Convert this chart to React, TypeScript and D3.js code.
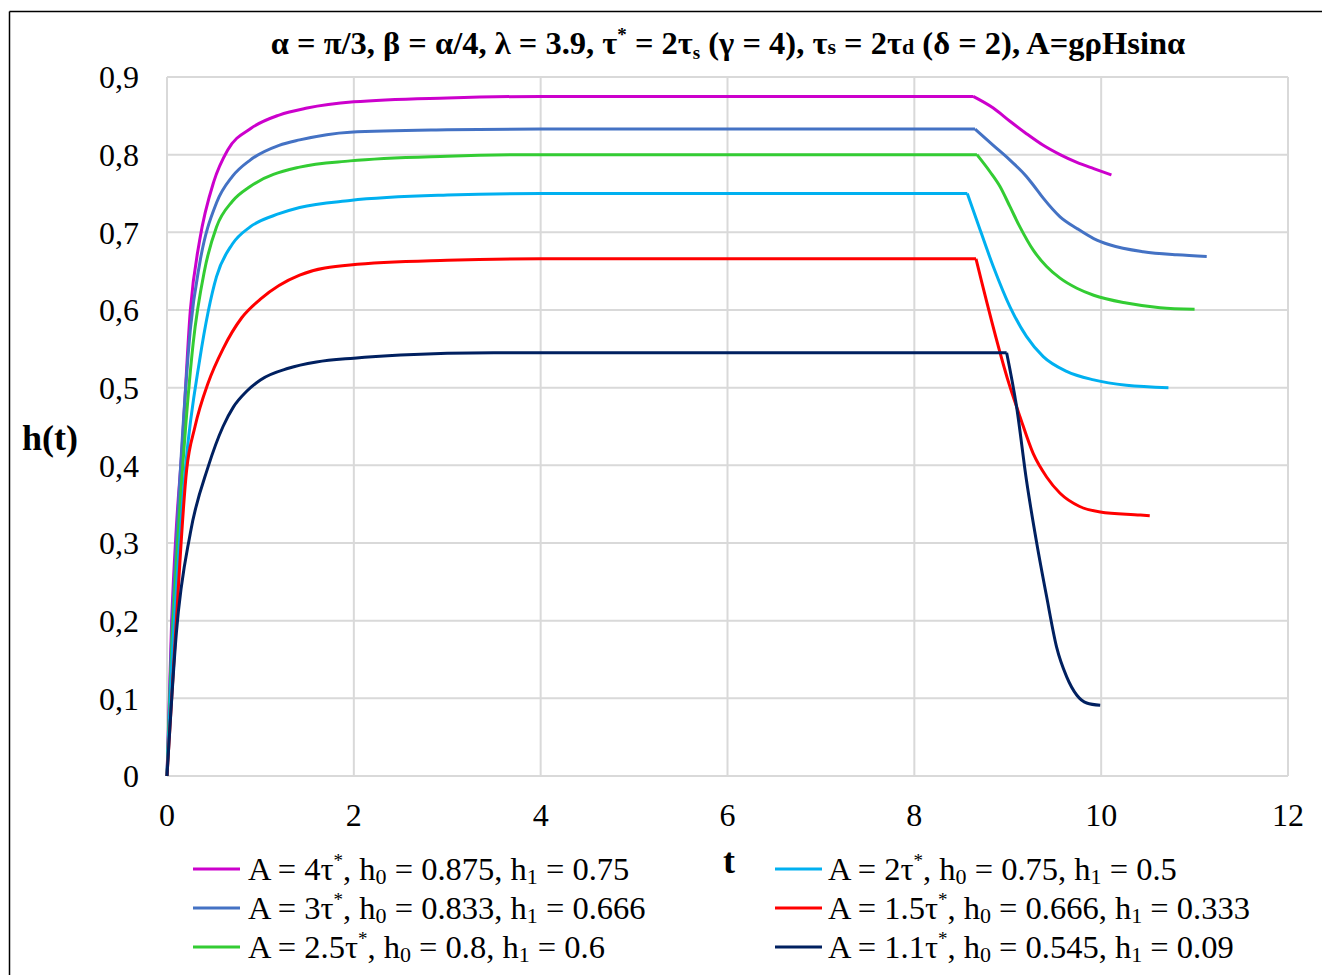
import React from "react";
import * as d3 from "d3";

// Horizontal axis: time t; vertical axis: h(t)
const X_TICKS = [0, 2, 4, 6, 8, 10, 12];
const Y_TICKS = [0, 0.1, 0.2, 0.3, 0.4, 0.5, 0.6, 0.7, 0.8, 0.9];

// Legend parameters for each run (A as multiple of τ*, initial and final levels)
const A_COEFS = ["4", "3", "2.5", "2", "1.5", "1.1"];
const H0_LABELS = ["0.875", "0.833", "0.8", "0.75", "0.666", "0.545"];
const H1_LABELS = ["0.75", "0.666", "0.6", "0.5", "0.333", "0.09"];
const COLORS = ["#cc00cc", "#4472c4", "#33cc33", "#00b0f0", "#ff0000", "#002060"];

// Sampled solution curves, [t, h]
const runA40: [number, number][] = [
  [0, 0], [0.05, 0.2], [0.1, 0.32], [0.16, 0.42], [0.25, 0.6], [0.35, 0.69],
  [0.5, 0.765], [0.65, 0.806], [0.9, 0.834], [1.2, 0.851], [1.5, 0.86],
  [2, 0.868], [3, 0.873], [4, 0.875], [8.63, 0.875], [8.845, 0.86],
  [9.024, 0.843], [9.2, 0.827], [9.38, 0.812], [9.56, 0.8], [9.74, 0.79],
  [9.92, 0.782], [10.11, 0.774],
];
const runA30: [number, number][] = [
  [0, 0], [0.05, 0.18], [0.1, 0.3], [0.2, 0.5], [0.25, 0.575], [0.35, 0.66],
  [0.53, 0.738], [0.7, 0.772], [0.89, 0.793], [1.2, 0.812], [1.42, 0.819],
  [1.96, 0.829], [3, 0.832], [4, 0.833], [8.65, 0.833], [8.845, 0.812],
  [9.024, 0.793], [9.2, 0.772], [9.273, 0.761], [9.38, 0.744], [9.56, 0.72],
  [9.74, 0.705], [9.92, 0.692], [10.09, 0.684], [10.45, 0.675], [10.81, 0.671],
  [11.13, 0.669],
];
const runA25: [number, number][] = [
  [0, 0], [0.05, 0.16], [0.1, 0.27], [0.2, 0.45], [0.28, 0.557], [0.4, 0.65],
  [0.53, 0.707], [0.7, 0.74], [0.89, 0.759], [1.42, 0.784], [1.96, 0.792],
  [3, 0.798], [4, 0.8], [8.67, 0.8], [8.81, 0.778], [8.917, 0.759],
  [9.024, 0.733], [9.13, 0.707], [9.273, 0.677], [9.416, 0.656], [9.56, 0.641],
  [9.74, 0.628], [9.92, 0.619], [10.27, 0.609], [10.63, 0.603], [11.0, 0.601],
];
const runA20: [number, number][] = [
  [0, 0], [0.05, 0.14], [0.1, 0.24], [0.2, 0.4], [0.35, 0.536], [0.53, 0.643],
  [0.7, 0.685], [0.89, 0.707], [1.2, 0.724], [1.42, 0.732], [1.96, 0.741],
  [3, 0.748], [4, 0.75], [8.567, 0.75], [8.667, 0.716], [8.845, 0.656],
  [9.024, 0.604], [9.2, 0.566], [9.38, 0.54], [9.63, 0.521], [9.92, 0.51],
  [10.27, 0.503], [10.72, 0.5],
];
const runA15: [number, number][] = [
  [0, 0], [0.09, 0.18], [0.21, 0.394], [0.3, 0.45], [0.44, 0.506], [0.6, 0.55],
  [0.8, 0.59], [1.0, 0.614], [1.42, 0.645], [1.96, 0.658], [3, 0.664],
  [4, 0.666], [8.66, 0.666], [9.024, 0.501], [9.13, 0.463], [9.273, 0.415],
  [9.416, 0.385], [9.56, 0.364], [9.77, 0.347], [9.99, 0.34], [10.42, 0.336],
  [10.52, 0.335],
];
const runA11: [number, number][] = [
  [0, 0], [0.1, 0.184], [0.25, 0.313], [0.44, 0.398], [0.6, 0.45], [0.71, 0.475],
  [0.85, 0.495], [1.0, 0.51], [1.3, 0.525], [1.6, 0.533], [2, 0.538],
  [2.5, 0.542], [3.5, 0.545], [8.988, 0.545], [9.095, 0.475], [9.2, 0.381],
  [9.31, 0.3], [9.416, 0.231], [9.523, 0.166], [9.63, 0.128], [9.74, 0.104],
  [9.845, 0.094], [9.99, 0.091],
];

const RUNS = [runA40, runA30, runA25, runA20, runA15, runA11];

const W = 1322;
const H = 975;
const SERIF = "'Liberation Serif', 'Times New Roman', serif";

const x = d3.scaleLinear().domain([0, 12]).range([167, 1288]);
const y = d3.scaleLinear().domain([0, 0.9]).range([776, 77]);

const lineGen = d3
  .line<[number, number]>()
  .x((d) => x(d[0]))
  .y((d) => y(d[1]))
  .curve(d3.curveMonotoneX);

// Rise + plateau and the decay are drawn as two smooth pieces sharing the corner point
function runPath(pts: [number, number][]): string {
  const top = d3.max(pts, (p) => p[1]) as number;
  let idx = 0;
  pts.forEach((p, i) => {
    if (p[1] === top) idx = i;
  });
  return (lineGen(pts.slice(0, idx + 1)) || "") + (lineGen(pts.slice(idx)) || "");
}

const yFmt = (v: number) => (v === 0 ? "0" : d3.format(".1f")(v).replace(".", ","));

function LegendText({ i, xPos, yPos }: { i: number; xPos: number; yPos: number }) {
  return (
    <text x={xPos} y={yPos} fontFamily={SERIF} fontSize={32.5} fill="#000">
      {`A = ${A_COEFS[i]}τ`}
      <tspan fontSize={19} dy={-13}>*</tspan>
      <tspan dy={13}>, h</tspan>
      <tspan fontSize={22} dy={4}>0</tspan>
      <tspan dy={-4}>{` = ${H0_LABELS[i]}, h`}</tspan>
      <tspan fontSize={22} dy={4}>1</tspan>
      <tspan dy={-4}>{` = ${H1_LABELS[i]}`}</tspan>
    </text>
  );
}

export default function App() {
  const legendCols = [
    { lx: 193, tx: 248 },
    { lx: 775, tx: 828 },
  ];
  const legendRows = [869, 908, 947];

  return (
    <svg
      width={W}
      height={H}
      style={{ position: "absolute", left: 0, top: 0, background: "#fff" }}
    >
      {/* frame */}
      <line x1={9.5} y1={11.5} x2={W} y2={11.5} stroke="#000" strokeWidth={1.5} />
      <line x1={9.5} y1={11.5} x2={9.5} y2={H} stroke="#000" strokeWidth={1.5} />

      {/* grid */}
      {Y_TICKS.map((v) => (
        <line key={`gy${v}`} x1={x(0)} x2={x(12)} y1={y(v)} y2={y(v)} stroke="#d9d9d9" strokeWidth={2} />
      ))}
      {X_TICKS.map((v) => (
        <line key={`gx${v}`} x1={x(v)} x2={x(v)} y1={y(0)} y2={y(0.9)} stroke="#d9d9d9" strokeWidth={2} />
      ))}

      {/* tick labels */}
      {Y_TICKS.map((v) => (
        <text key={`ty${v}`} x={139} y={y(v)} dy="0.35em" textAnchor="end" fontFamily={SERIF} fontSize={32}>
          {yFmt(v)}
        </text>
      ))}
      {X_TICKS.map((v) => (
        <text key={`tx${v}`} x={x(v)} y={826} textAnchor="middle" fontFamily={SERIF} fontSize={32}>
          {v}
        </text>
      ))}

      {/* curves */}
      {RUNS.map((pts, i) => (
        <path key={`r${i}`} d={runPath(pts)} fill="none" stroke={COLORS[i]} strokeWidth={3} strokeLinejoin="round" />
      ))}

      {/* axis titles */}
      <text x={22} y={450} fontFamily={SERIF} fontSize={36} fontWeight="bold">h(t)</text>
      <text x={729} y={873} textAnchor="middle" fontFamily={SERIF} fontSize={36} fontWeight="bold">t</text>

      {/* title */}
      <text x={728} y={54} textAnchor="middle" fontFamily={SERIF} fontSize={32.5} fontWeight="bold">
        {"α = π/3, β = α/4, λ = 3.9, τ"}
        <tspan fontSize={19} dy={-13}>*</tspan>
        <tspan dy={13}>{" = 2τ"}</tspan>
        <tspan fontSize={19} dy={5}>s</tspan>
        <tspan dy={-5}>{" (γ = 4), τ"}</tspan>
        <tspan fontSize={22}>s</tspan>
        <tspan>{" = 2τ"}</tspan>
        <tspan fontSize={22}>d</tspan>
        <tspan>{" (δ = 2), A=gρHsinα"}</tspan>
      </text>

      {/* legend */}
      {COLORS.map((c, i) => {
        const col = legendCols[Math.floor(i / 3)];
        const row = legendRows[i % 3];
        return (
          <g key={`lg${i}`}>
            <line x1={col.lx} x2={col.lx + 47} y1={row} y2={row} stroke={c} strokeWidth={3} />
            <LegendText i={i} xPos={col.tx} yPos={row + 11} />
          </g>
        );
      })}
    </svg>
  );
}
